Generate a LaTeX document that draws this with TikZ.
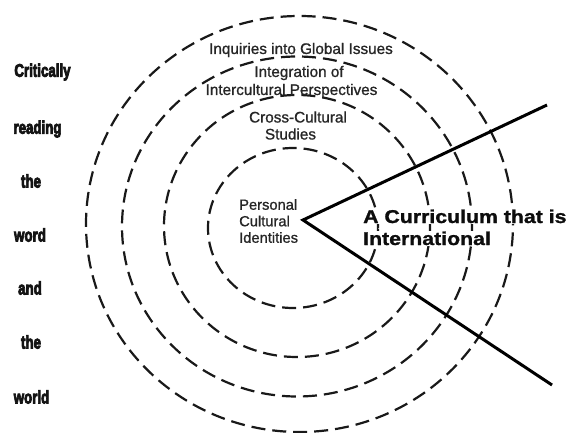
\documentclass[tikz,border=0pt]{standalone}
\usepackage{fontspec}
\setmainfont{Liberation Sans}
\newfontfamily\lblfont{Liberation Sans}[FakeBold=1]
\newfontfamily\sidefont{Liberation Sans Bold}[FakeBold=5]
\newfontfamily\titlefont{Liberation Sans Bold}[FakeBold=1.2]
\usepackage{graphicx}
\begin{document}
\begin{tikzpicture}[x=1pt,y=-1pt,
  ring/.style={draw=black!90, line width=2.2pt, dash pattern=on 14pt off 7pt},
  lbl/.style={font=\lblfont\fontsize{15.3}{16.5}\selectfont, text=black!85, inner sep=0pt},
  sideword/.style={font=\sidefont\fontsize{14}{16}\selectfont, text=black!92, inner sep=0pt},
  titletext/.style={font=\titlefont\fontsize{18.5}{22}\selectfont, text=black!95, fill=white, inner sep=1pt, anchor=base west},
  wedge/.style={line width=3pt, line join=miter, draw=black}
]
\useasboundingbox[fill=white] (0,0) rectangle (568,433);

% rings
\draw[ring] (299.5,224) ellipse [x radius=213.5pt, y radius=208pt];
\draw[ring] (297,226.5) ellipse [x radius=175pt, y radius=170pt];
\draw[ring] (297,226) ellipse [x radius=133pt, y radius=131pt];
\draw[ring] (293,228) ellipse [x radius=85pt, y radius=80pt];

% ring labels
\node[lbl] (l1) at (301,50) {Inquiries into Global Issues};
\node[lbl] (l2a) at (299,73) {Integration of};
\node[lbl] (l2b) at (291.5,91) {Intercultural Perspectives};
\node[lbl] (l3a) at (298,117) {Cross-Cultural};
\node[lbl] (l3b) at (290.5,134) {Studies};
\node[lbl, align=left, anchor=west, font=\lblfont\fontsize{14.7}{16.5}\selectfont] (l4) at (239,221) {Personal\\Cultural\\Identities};

% side words
\node[sideword] (w1) at (42.5,72) {\scalebox{0.95}[1.3]{Critically}};
\node[sideword] (w2) at (37.5,129) {\scalebox{0.95}[1.3]{reading}};
\node[sideword] (w3) at (31,181) {\scalebox{0.95}[1.3]{the}};
\node[sideword] (w4) at (30,235) {\scalebox{0.95}[1.3]{word}};
\node[sideword] (w5) at (30,288) {\scalebox{0.95}[1.3]{and}};
\node[sideword] (w6) at (31,342) {\scalebox{0.95}[1.3]{the}};
\node[sideword] (w7) at (31.5,397) {\scalebox{0.95}[1.3]{world}};

% title
\node[titletext] (t1) at (362,223) {\scalebox{1.15}[1]{A Curriculum that is}};
\node[titletext] (t2) at (362,245) {\scalebox{1.15}[1]{International}};

% wedge
\coordinate (vtx) at (303,220);
\coordinate (up) at (547,105);
\coordinate (lo) at (552,385);
\draw[wedge] (up) -- (vtx) -- (lo);
\end{tikzpicture}
\end{document}
